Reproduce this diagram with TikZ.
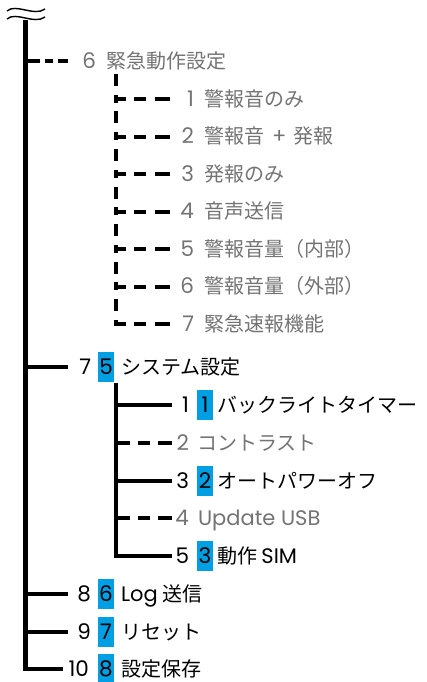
\documentclass[tikz,border=0pt]{standalone}
\usepackage{fontspec}
\newfontfamily\jp{Noto Sans CJK JP}
\newfontfamily\lat{Poppins}
\newcommand\latn[1]{{\lat\fontsize{21}{24}\selectfont #1}}
\definecolor{txtgray}{RGB}{115,115,115}
\definecolor{hlblue}{RGB}{0,158,226}
\begin{document}
\begin{tikzpicture}[x=1pt,y=-1pt,
  every node/.style={inner sep=0pt, outer sep=0pt, font=\jp\fontsize{20}{24}\selectfont, text height=14.5pt, text depth=0pt},
  numbox/.style={anchor=west, align=right, text width=#1, font=\lat\fontsize{21.5}{24}\selectfont},
  lbl/.style={anchor=west},
  greytext/.style={text=txtgray},
  hl/.style={fill=hlblue, minimum width=16pt, minimum height=30pt, font=\lat\fontsize{21.5}{24}\selectfont},
  trunk/.style={line width=4.5pt},
  dashA/.style={line width=4pt, dash pattern=on 12pt off 5pt on 8pt off 5pt on 11pt off 5pt},
  dashB/.style={line width=4pt, dash pattern=on 12pt off 8pt on 12pt off 9pt on 16pt off 5pt},
  dashC/.style={line width=4pt, dash pattern=on 12pt off 8pt on 12pt off 8pt on 15pt off 5pt},
  vdash/.style={line width=4pt, dash pattern=on 12pt off 8.75pt on 8pt off 8.75pt},
  wave/.style={line width=1.4pt}
]
\useasboundingbox (0,0) rectangle (426,682);

% break mark
\draw[wave] (7,11) .. controls (16,3) and (34,17) .. (45,9);
\draw[wave] (7,19) .. controls (16,11) and (34,25) .. (45,17);

% ---- row 6 and its sub items
\node[numbox=28pt,greytext] (n6) at (68,61) {6};
\node[lbl,greytext] (l6) at (106,61) {緊急動作設定};

\node[numbox=24pt,greytext] (n61) at (170,99) {1};
\node[lbl,greytext] (l61) at (204,99) {警報音のみ};
\node[numbox=24pt,greytext] (n62) at (170,136.5) {2};
\node[lbl,greytext] (l62) at (204,136.5) {警報音\hspace{8pt}\latn{+}\hspace{7pt}発報};
\node[numbox=24pt,greytext] (n63) at (170,174) {3};
\node[lbl,greytext] (l63) at (204,174) {発報のみ};
\node[numbox=24pt,greytext] (n64) at (170,211.5) {4};
\node[lbl,greytext] (l64) at (204,211.5) {音声送信};
\node[numbox=24pt,greytext] (n65) at (170,249) {5};
\node[lbl,greytext] (l65) at (204,249) {警報音量（内部）};
\node[numbox=24pt,greytext] (n66) at (170,286.5) {6};
\node[lbl,greytext] (l66) at (204,286.5) {警報音量（外部）};
\node[numbox=24pt,greytext] (n67) at (170,324) {7};
\node[lbl,greytext] (l67) at (204,324) {緊急速報機能};

% ---- row 7 and its sub items
\node[numbox=23pt] (n7) at (68,367) {7};
\node[hl] (h7) at (106,367) {5};
\node[lbl] (l7) at (121,367) {システム設定};

\node[numbox=17pt] (n71) at (172,405) {1};
\node[hl] (h71) at (205,405) {1};
\node[lbl] (l71) at (217,405) {バックライトタイマー};
\node[numbox=17pt,greytext] (n72) at (172,443) {2};
\node[lbl,greytext] (l72) at (197,443) {コントラスト};
\node[numbox=17pt] (n73) at (172,481) {3};
\node[hl] (h73) at (205,481) {2};
\node[lbl] (l73) at (217,481) {オートパワーオフ};
\node[numbox=17pt,greytext] (n74) at (172,518) {4};
\node[lbl,greytext] (l74) at (198,518) {\latn{Update USB}};
\node[numbox=17pt] (n75) at (172,556) {5};
\node[hl] (h75) at (205,556) {3};
\node[lbl] (l75) at (217,556) {動作 \latn{SIM}};

% ---- rows 8-10
\node[numbox=23pt] (n8) at (68,594) {8};
\node[hl] (h8) at (106,594) {6};
\node[lbl] (l8) at (121,594) {\latn{Log} 送信};
\node[numbox=23pt] (n9) at (68,632) {9};
\node[hl] (h9) at (106,632) {7};
\node[lbl] (l9) at (121,632) {リセット};
\node[numbox=26pt] (n10) at (63,669) {10};
\node[hl] (h10) at (106,669) {8};
\node[lbl] (l10) at (121,669) {設定保存};

% ---- connectors
\coordinate (top) at (25.5,20);
\draw[trunk] (top) |- (n10.west);
\draw[trunk] (top |- n7.west) -- (n7.west);
\draw[trunk] (top |- n8.west) -- (n8.west);
\draw[trunk] (top |- n9.west) -- (n9.west);
\coordinate (b6) at (27.75,61);
\draw[dashA] (b6) -- (n6.west);

\coordinate (s6) at (116,74);
\coordinate (s6end) at (116,326);
\coordinate (s6L) at (114,74);
\draw[vdash] (s6) -- (s6end);
\foreach \k in {n61,n62,n63,n64,n65,n66,n67}{
  \draw[dashB] (s6L |- \k.west) -- (\k.west);
}

\coordinate (s7) at (116,383);
\coordinate (s7R) at (118.25,383);
\draw[trunk] (s7) |- (n75.west);
\draw[trunk] (s7 |- n71.west) -- (n71.west);
\draw[trunk] (s7 |- n73.west) -- (n73.west);
\draw[dashC] (s7R |- n72.west) -- (n72.west);
\draw[dashC] (s7R |- n74.west) -- (n74.west);
\end{tikzpicture}
\end{document}
